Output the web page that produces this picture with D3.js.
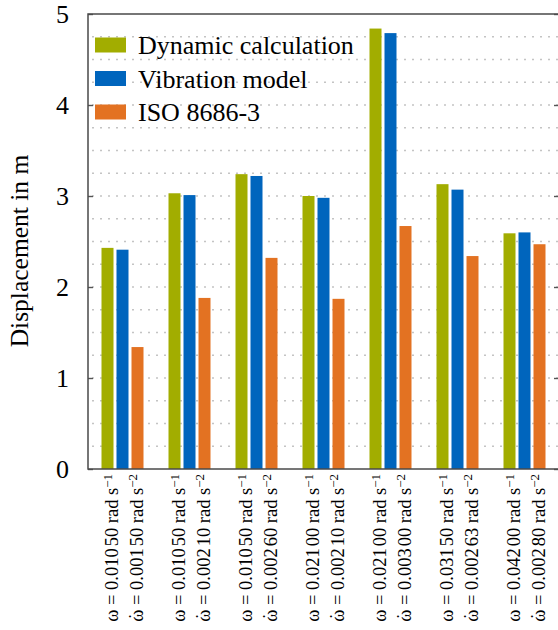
<!DOCTYPE html>
<html>
<head>
<meta charset="utf-8">
<script src="https://cdn.jsdelivr.net/npm/d3@7"></script>
<style>
  html, body { margin: 0; padding: 0; background: #fff; }
  svg { display: block; }
  text { font-family: "Liberation Serif", "Times New Roman", serif; fill: #000; }
</style>
</head>
<body>
<svg id="chart" width="558" height="630"></svg>
<script>
// ---- data ----
const groups = ["g1", "g2", "g3", "g4", "g5", "g6", "g7"];
const omegaLabels = ["0.010 50", "0.010 50", "0.010 50", "0.021 00", "0.021 00", "0.031 50", "0.042 00"];
const omegaDotLabels = ["0.001 50", "0.002 10", "0.002 60", "0.002 10", "0.003 00", "0.002 63", "0.002 80"];
const seriesNames = ["Dynamic calculation", "Vibration model", "ISO 8686-3"];
const dynamicCalc = [2.43, 3.03, 3.24, 3.00, 4.84, 3.13, 2.59];
const vibrationModel = [2.41, 3.01, 3.22, 2.98, 4.79, 3.07, 2.60];
const iso8686 = [1.34, 1.88, 2.32, 1.87, 2.67, 2.34, 2.47];
const yTicks = [0, 1, 2, 3, 4, 5];
const colors = ["#A2AD00", "#0065BD", "#E37222"];

const seriesValues = [dynamicCalc, vibrationModel, iso8686];

const svg = d3.select("#chart");
const pLeft = 88, pRight = 559, pTop = 14, pBottom = 469;

const x = d3.scaleBand().domain(groups).range([89, 558]).paddingInner(0).paddingOuter(0);
const xs = d3.scaleBand().domain(seriesNames).range([-21, 21]).paddingInner(0.2).paddingOuter(0);
const y = d3.scaleLinear().domain([0, 5]).range([pBottom, pTop]);

// grid (dotted every 0.25)
const gridVals = d3.range(1, 20).map(i => i * 0.25);
svg.append("g").selectAll("line").data(gridVals).join("line")
  .attr("x1", pLeft + 4).attr("x2", pRight)
  .attr("y1", d => y(d)).attr("y2", d => y(d))
  .attr("stroke", "#c4c4c4").attr("stroke-width", 1.6)
  .attr("stroke-dasharray", "2,6");

// bars
const barG = svg.append("g");
seriesNames.forEach((s, si) => {
  barG.append("g").selectAll("rect").data(groups).join("rect")
    .attr("x", (g) => x(g) + x.bandwidth() / 2 + xs(s))
    .attr("width", xs.bandwidth())
    .attr("y", (g, i) => y(seriesValues[si][i]))
    .attr("height", (g, i) => y(0) - y(seriesValues[si][i]))
    .attr("fill", colors[si]);
});

// axes ticks
const yAxisL = d3.axisLeft(y).tickValues(yTicks).tickSize(-5).tickPadding(19).tickFormat(d3.format("d"));
const gl = svg.append("g").attr("transform", `translate(${pLeft},0)`).call(yAxisL);
gl.attr("font-family", null);
gl.select(".domain").remove();
gl.selectAll(".tick line").attr("stroke", "#555").attr("stroke-width", 1.4);
gl.selectAll(".tick text").attr("font-size", 26).attr("fill", "#000").attr("dy", "0.33em");

const yAxisR = d3.axisRight(y).tickValues(yTicks).tickSize(-5).tickFormat("");
const gr = svg.append("g").attr("transform", `translate(${pRight},0)`).call(yAxisR);
gr.select(".domain").remove();
gr.selectAll(".tick line").attr("stroke", "#555").attr("stroke-width", 1.4);

// frame
svg.append("rect").attr("x", pLeft).attr("y", pTop).attr("width", pRight - pLeft).attr("height", pBottom - pTop)
  .attr("fill", "none").attr("stroke", "#4a4a4a").attr("stroke-width", 1.5);

// y title
svg.append("text")
  .attr("transform", `translate(28,251) rotate(-90)`)
  .attr("text-anchor", "middle")
  .attr("font-size", 25.5)
  .text("Displacement in m");

// x labels
const FS = 18.5;
function addLabel(parent, xpos, dotted, numStr, exp) {
  const t = parent.append("text")
    .attr("transform", `translate(${xpos},474) rotate(-90)`)
    .attr("text-anchor", "end")
    .attr("font-size", FS);
  t.append("tspan").text("\u03C9");
  if (dotted) {
    t.append("tspan").attr("dx", -9.8).attr("dy", -1).text("\u02D9");
    t.append("tspan").attr("dx", 3.6).attr("dy", 1).text(" = ");
  } else {
    t.append("tspan").text(" = ");
  }
  const parts = numStr.split(" ");
  t.append("tspan").text(parts[0]);
  t.append("tspan").attr("dx", 2).text(parts[1] + " rad");
  t.append("tspan").attr("dx", 4.5).text("s");
  t.append("tspan").attr("dy", "-0.45em").attr("font-size", 13).text("\u2212" + exp);
}
const xl = svg.append("g");
groups.forEach((g, i) => {
  const c = x(g) + x.bandwidth() / 2;
  addLabel(xl, c - 5, false, omegaLabels[i], "1");
  addLabel(xl, c + 20, true, omegaDotLabels[i], "2");
});

// legend
const lg = svg.append("g");
seriesNames.forEach((s, i) => {
  const cy = 45 + i * 33.5;
  lg.append("rect").attr("x", 95).attr("y", cy - 7.5).attr("width", 31).attr("height", 15).attr("fill", colors[i]);
  lg.append("text").attr("x", 138).attr("y", cy + 9).attr("font-size", 26).text(s);
});
</script>
</body>
</html>
